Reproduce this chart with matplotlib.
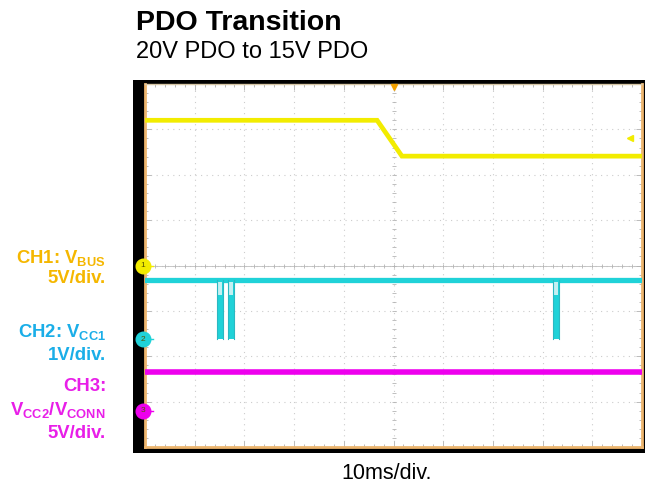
import matplotlib
matplotlib.use("Agg")
import matplotlib.pyplot as plt
import numpy as np

plt.rcParams['font.family'] = ['Liberation Sans', 'DejaVu Sans']
plt.rcParams['mathtext.fontset'] = 'custom'
plt.rcParams['mathtext.rm'] = 'Liberation Sans'
plt.rcParams['mathtext.bf'] = 'Liberation Sans:bold'

# ---- data (time in ms, amplitude in screen divisions) ----
ch1_time = [0, 46.7, 51.7, 100]
ch1_level = [3.20, 3.20, 2.41, 2.41]

ch2_high = -0.32
ch2_low = -1.62
ch2_pulse_start = [14.5, 16.7, 82.1]
ch2_pulse_end = [15.7, 17.9, 83.3]

ch3_time = [0, 100]
ch3_level = [-2.35, -2.35]

ch_offsets = [0.0, -1.62, -3.20]       # channel ground markers
ch_labels = ["1", "2", "3"]

title = "PDO Transition"
subtitle = "20V PDO to 15V PDO"
xlabel = "10ms/div."

C_CH1 = "#F2EC00"
C_CH2 = "#20D2D8"
C_CH3 = "#EE00EE"
T_CH1 = "#F5B700"
T_CH2 = "#1AAEE8"
T_CH3 = "#E81EE8"

W, H = 651, 484
fig = plt.figure(figsize=(W / 100, H / 100), dpi=100)

def fx(px):
    return px / W

def fy(py):
    return 1 - py / H

# black frame
frame = fig.add_axes([fx(133), fy(453), fx(645) - fx(133), fy(80) - fy(453)])
frame.set_facecolor("black")
frame.set_xticks([]); frame.set_yticks([])
for s in frame.spines.values():
    s.set_visible(False)

ax = fig.add_axes([fx(145), fy(447), fx(642) - fx(145), fy(84) - fy(447)])
ax.set_facecolor("white")
ax.set_xlim(0, 100)
ax.set_ylim(-4, 4)
for s in ax.spines.values():
    s.set_color("#EDB56E")
    s.set_linewidth(2.0)
ax.spines["top"].set_color("#D8C8A8")
ax.spines["top"].set_linewidth(1.0)

# grid
gc = "#CCCCCC"
for xv in np.arange(10, 100, 10):
    ax.axvline(xv, color=gc, lw=0.8, ls=(0, (1, 4)), zorder=1)
for yv in np.arange(-3, 4, 1):
    ax.axhline(yv, color=gc, lw=0.8, ls=(0, (1, 4)), zorder=1)
ax.axhline(0, color="#BDBDBD", lw=0.6, zorder=1)
# center-line ticks
mx = np.arange(2, 100, 2)
ax.plot(mx, np.zeros_like(mx), ls="none", marker="|", ms=3.5, color="#B4B4B4", mew=0.6, zorder=1)
my = np.arange(-3.8, 4, 0.2)
ax.plot(np.full_like(my, 50), my, ls="none", marker="_", ms=3.5, color="#B4B4B4", mew=0.6, zorder=1)

ax.set_xticks(np.arange(0, 101, 10))
ax.set_yticks(np.arange(-4, 5, 1))
ax.set_xticks(np.arange(0, 101, 2), minor=True)
ax.set_yticks(np.arange(-4, 4.01, 0.2), minor=True)
ax.tick_params(which="both", direction="in", top=True, right=True,
               labelbottom=False, labelleft=False, color="#B0B0B0", width=0.6)
ax.tick_params(which="major", length=4)
ax.tick_params(which="minor", length=2.5)

# CH1 trace
ax.plot(ch1_time, ch1_level, color=C_CH1, lw=3.4, solid_joinstyle="miter", zorder=3)

# CH2 trace with pulses
ax.plot([0, 100], [ch2_high, ch2_high], color=C_CH2, lw=3.8, zorder=3)
for a, b in zip(ch2_pulse_start, ch2_pulse_end):
    ax.fill_between([a, b], ch2_low, ch2_high, color=C_CH2, lw=0, zorder=3)
    ax.plot([a, a], [ch2_low, ch2_high], color="#2BB8C2", lw=0.8, zorder=3.6)
    ax.plot([b, b], [ch2_low, ch2_high], color="#2BB8C2", lw=0.8, zorder=3.6)
    ax.fill_between([a + 0.25, b - 0.25], ch2_high - 0.05, ch2_high - 0.33,
                    color="#C4F0F2", lw=0, zorder=3.5)

# CH3 trace
ax.plot(ch3_time, ch3_level, color=C_CH3, lw=4.0, zorder=3)

# channel markers
mcols = [C_CH1, C_CH2, C_CH3]
for lvl, lab, c in zip(ch_offsets, ch_labels, mcols):
    ax.plot([-0.4], [lvl], marker="o", ms=10.5, color=c, clip_on=False, zorder=6)
    ax.text(-0.4, lvl, lab, fontsize=6, ha="center", va="center", color="#555500",
            clip_on=False, zorder=7)
    ax.plot([0.6, 1.6], [lvl, lvl], color=c, lw=1, zorder=6)

# trigger markers
ax.plot([50], [3.93], marker="v", ms=5, color="#F0A000", clip_on=False, zorder=6)
ax.plot([97.6], [2.81], marker="<", ms=4, color=C_CH1, zorder=6)

# texts
fig.text(fx(136), fy(30), title, fontsize=20.5, fontweight="bold", va="baseline", ha="left")
fig.text(fx(136), fy(57.5), subtitle, fontsize=17, va="baseline", ha="left")
fig.text(fx(387), fy(479), xlabel, fontsize=15.5, va="baseline", ha="center")

lx = fx(106)
fs = 13.3
fig.text(lx, fy(263), r"CH1: V$_{\mathbf{BUS}}$", color=T_CH1, fontsize=fs,
         fontweight="bold", ha="right", va="baseline")
fig.text(lx, fy(283), "5V/div.", color=T_CH1, fontsize=fs, fontweight="bold",
         ha="right", va="baseline")
fig.text(lx, fy(337), r"CH2: V$_{\mathbf{CC1}}$", color=T_CH2, fontsize=fs,
         fontweight="bold", ha="right", va="baseline")
fig.text(lx, fy(360), "1V/div.", color=T_CH2, fontsize=fs, fontweight="bold",
         ha="right", va="baseline")
fig.text(lx, fy(391), "CH3:", color=T_CH3, fontsize=fs, fontweight="bold",
         ha="right", va="baseline")
fig.text(lx, fy(415), r"V$_{\mathbf{CC2}}$/V$_{\mathbf{CONN}}$", color=T_CH3,
         fontsize=fs, fontweight="bold", ha="right", va="baseline")
fig.text(lx, fy(438), "5V/div.", color=T_CH3, fontsize=fs, fontweight="bold",
         ha="right", va="baseline")

fig.savefig("out.png", dpi=100, facecolor="white")
